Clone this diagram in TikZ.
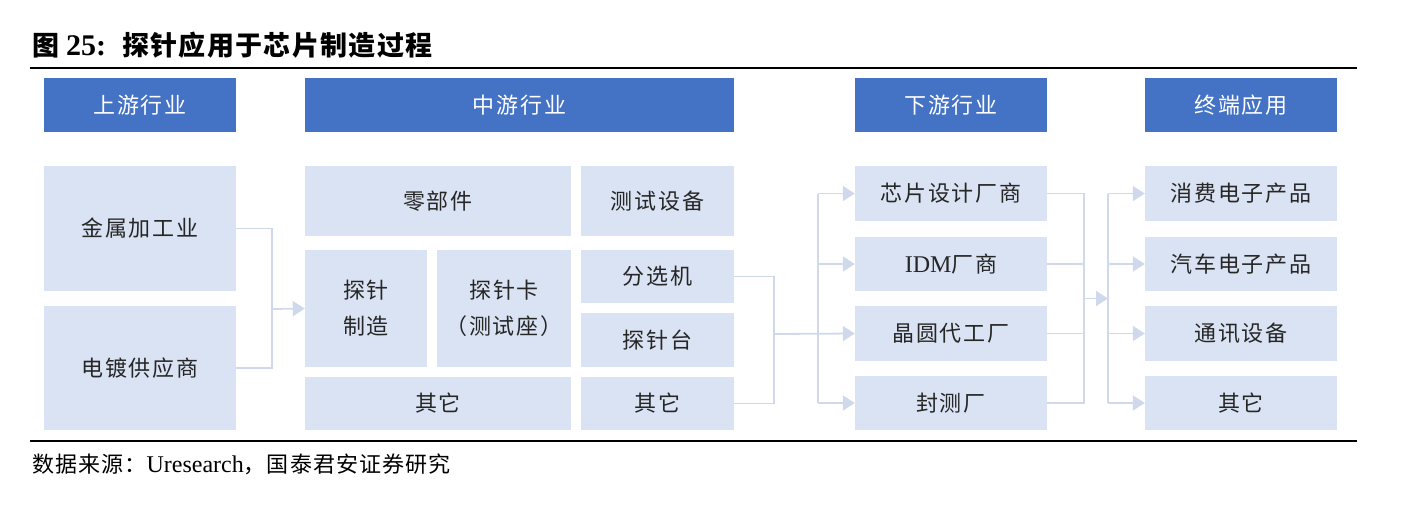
\documentclass[tikz,border=0pt]{standalone}
\usepackage{fontspec}
\setmainfont{Liberation Serif}
\newfontfamily\cjk[LetterSpace=8]{Noto Sans CJK SC}
\newfontfamily\cjktitle[LetterSpace=5]{Noto Sans CJK SC}
\usetikzlibrary{arrows.meta}
\definecolor{hdrblue}{HTML}{4472C4}
\definecolor{boxblue}{HTML}{DAE3F3}
\definecolor{linec}{HTML}{D0D8EC}
\definecolor{txt}{HTML}{262626}
\newcommand\bx[7]{\node[#6, minimum width={(#4-#2)*1pt}, minimum height={(#5-#3)*1pt}, inner sep=0pt] (#1) at ({(#2+#4)/2},{(#3+#5)/2}) {#7};}
\begin{document}
\begin{tikzpicture}[x=1pt,y=-1pt,
  hdr/.style={fill=hdrblue, draw=none, text=white, font=\cjk\fontsize{22}{26}\selectfont},
  lbox/.style={fill=boxblue, draw=none, text=txt, font=\cjk\fontsize{22}{36}\selectfont, align=center},
  conn/.style={draw=linec, line width=1.8pt},
  arr/.style={conn, -{Triangle[length=12pt,width=15pt]}}]
\useasboundingbox (0,0) rectangle (1402,509);
% title
\node[anchor=base west, inner sep=0pt, font=\cjktitle\bfseries\fontsize{27}{30}\selectfont] (title) at (32,55) {图\hspace{7pt}{\rmfamily\bfseries\fontsize{30}{30}\selectfont 25:}\hspace{16pt}探针应用于芯片制造过程};
\draw[line width=2pt] (30,68) -- (1357,68);
\draw[line width=2pt] (30,441) -- (1357,441);
\node[anchor=base west, inner sep=0pt, font=\cjktitle\fontsize{22}{25}\selectfont] (src) at (32,472) {数据来源：{\rmfamily\fontsize{24}{25}\selectfont Uresearch}，国泰君安证券研究};
% headers
\bx{h1}{44}{78}{236}{132}{hdr}{上游行业}
\bx{h2}{305}{78}{734}{132}{hdr}{中游行业}
\bx{h3}{855}{78}{1047}{132}{hdr}{下游行业}
\bx{h4}{1145}{78}{1337}{132}{hdr}{终端应用}
% upstream
\bx{metal}{44}{166}{236}{291}{lbox}{金属加工业}
\bx{plate}{44}{306}{236}{430}{lbox}{电镀供应商}
% midstream
\bx{parts}{305}{166}{571}{236}{lbox}{零部件}
\bx{test}{581}{166}{734}{236}{lbox}{测试设备}
\bx{probe}{305}{250}{427}{367}{lbox}{探针\\制造}
\bx{card}{437}{250}{571}{367}{lbox}{探针卡\\（测试座）}
\bx{sorter}{581}{250}{734}{303}{lbox}{分选机}
\bx{prober}{581}{313}{734}{367}{lbox}{探针台}
\bx{otherA}{305}{377}{571}{430}{lbox}{其它}
\bx{otherB}{581}{377}{734}{430}{lbox}{其它}
% downstream
\bx{design}{855}{166}{1047}{221}{lbox}{芯片设计厂商}
\bx{idm}{855}{237}{1047}{291}{lbox}{{\rmfamily\fontsize{24}{24}\selectfont IDM}厂商}
\bx{fab}{855}{306}{1047}{361}{lbox}{晶圆代工厂}
\bx{pack}{855}{376}{1047}{430}{lbox}{封测厂}
% terminal
\bx{cons}{1145}{166}{1337}{221}{lbox}{消费电子产品}
\bx{auto}{1145}{237}{1337}{291}{lbox}{汽车电子产品}
\bx{comm}{1145}{306}{1337}{361}{lbox}{通讯设备}
\bx{otherC}{1145}{376}{1337}{430}{lbox}{其它}
% connectors upstream -> midstream
\coordinate (j1) at (272,309);
\draw[conn] (metal.east) -| (j1) |- (plate.east);
\draw[arr] (j1) -- (probe.west);
% midstream -> downstream
\coordinate (j2) at (774,334);
\draw[conn] (sorter.east) -| (j2) |- (otherB.east);
\draw[arr] (j2) -- (fab.west);
\coordinate (b2) at (818,0);
\draw[conn] (design.west -| b2) -- (pack.west -| b2);
\draw[arr] (design.west -| b2) -- (design.west);
\draw[arr] (idm.west -| b2) -- (idm.west);
\draw[arr] (pack.west -| b2) -- (pack.west);
% downstream -> terminal
\coordinate (j3) at (1084,298.5);
\draw[conn] (design.east) -| (j3) |- (pack.east);
\draw[conn] (idm.east) -- (idm.east -| j3);
\draw[conn] (fab.east) -- (fab.east -| j3);
\coordinate (b3) at (1108,298.5);
\draw[arr] (j3) -- (b3);
\draw[conn] (cons.west -| b3) -- (otherC.west -| b3);
\draw[arr] (cons.west -| b3) -- (cons.west);
\draw[arr] (auto.west -| b3) -- (auto.west);
\draw[arr] (comm.west -| b3) -- (comm.west);
\draw[arr] (otherC.west -| b3) -- (otherC.west);
\end{tikzpicture}
\end{document}
